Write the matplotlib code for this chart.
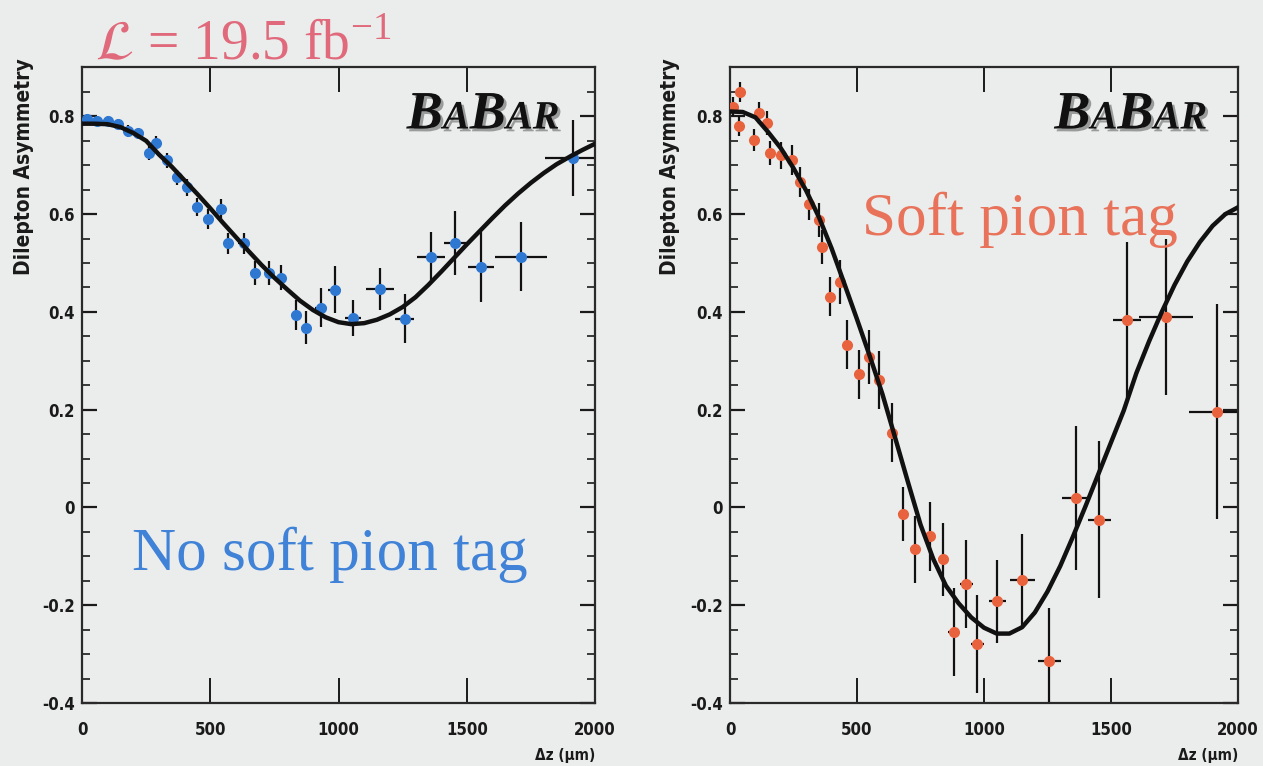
import matplotlib
matplotlib.use("Agg")
import matplotlib.pyplot as plt
import matplotlib.patheffects as pe
from matplotlib.ticker import MultipleLocator, FixedLocator, FixedFormatter
from matplotlib.offsetbox import TextArea, HPacker, AnchoredOffsetbox

plt.rcParams['mathtext.fontset'] = 'stix'

# ---------------- data: no soft pion tag ----------------
dz_nosoft = [20, 60, 100, 140, 180, 220, 260, 290, 330, 370, 410, 450, 490, 540,
             570, 630, 675, 730, 775, 834, 873, 932, 986, 1057, 1162, 1259, 1361,
             1454, 1556, 1711, 1914]
asym_nosoft = [0.795, 0.79, 0.79, 0.785, 0.77, 0.765, 0.725, 0.745, 0.71, 0.675,
               0.655, 0.615, 0.59, 0.61, 0.54, 0.54, 0.48, 0.48, 0.47, 0.394,
               0.368, 0.409, 0.445, 0.388, 0.447, 0.386, 0.513, 0.541, 0.492,
               0.513, 0.715]
dzerr_nosoft = [20, 20, 20, 20, 20, 20, 15, 15, 20, 20, 20, 20, 20, 15, 15, 20, 20,
                20, 20, 20, 20, 25, 25, 30, 55, 37, 55, 43, 50, 100, 110]
asymerr_nosoft = [0.01, 0.01, 0.01, 0.01, 0.012, 0.012, 0.014, 0.014, 0.015, 0.016,
                  0.017, 0.018, 0.02, 0.02, 0.022, 0.022, 0.024, 0.025, 0.026, 0.03,
                  0.034, 0.04, 0.048, 0.037, 0.043, 0.05, 0.05, 0.065, 0.072,
                  0.07, 0.077]

# fitted asymmetry curve, no soft pion tag
fit_dz = [0, 50, 100, 150, 200, 250, 300, 350, 400, 450, 500, 550, 600, 650, 700,
          750, 800, 850, 900, 950, 1000, 1050, 1100, 1150, 1200, 1250, 1300, 1350,
          1400, 1450, 1500, 1550, 1600, 1650, 1700, 1750, 1800, 1850, 1900, 1950, 2000]
fit_nosoft = [0.785, 0.785, 0.784, 0.778, 0.766, 0.75, 0.722, 0.697, 0.669, 0.641,
              0.612, 0.582, 0.553, 0.524, 0.496, 0.47, 0.446, 0.423, 0.404, 0.389,
              0.379, 0.375, 0.377, 0.384, 0.395, 0.41, 0.43, 0.455, 0.482, 0.51,
              0.538, 0.565, 0.592, 0.618, 0.642, 0.664, 0.684, 0.702, 0.717, 0.731,
              0.744]

# ---------------- data: soft pion tag ----------------
dz_soft = [10, 35, 40, 94, 114, 146, 157, 200, 244, 275, 310, 350, 363, 393, 432,
           460, 507, 546, 585, 637, 680, 727, 786, 837, 880, 931, 974, 1053, 1151,
           1257, 1363, 1454, 1564, 1717, 1917]
asym_soft = [0.82, 0.78, 0.85, 0.752, 0.807, 0.786, 0.725, 0.72, 0.711, 0.666, 0.62,
             0.588, 0.533, 0.431, 0.462, 0.333, 0.272, 0.308, 0.261, 0.153, -0.014,
             -0.086, -0.059, -0.106, -0.255, -0.157, -0.28, -0.192, -0.149, -0.315,
             0.02, -0.025, 0.384, 0.39, 0.196]
dzerr_soft = [10, 10, 10, 12, 12, 12, 12, 15, 15, 15, 15, 15, 15, 15, 15, 15, 15,
              15, 15, 15, 18, 18, 18, 20, 20, 25, 25, 35, 50, 45, 55, 45, 55, 105, 110]
asymerr_soft = [0.02, 0.02, 0.02, 0.022, 0.022, 0.025, 0.025, 0.028, 0.03, 0.03,
                0.032, 0.035, 0.035, 0.04, 0.045, 0.05, 0.05, 0.055, 0.06, 0.06,
                0.055, 0.068, 0.07, 0.075, 0.09, 0.09, 0.1, 0.085, 0.095, 0.11,
                0.147, 0.16, 0.16, 0.16, 0.22]

fit_soft = [0.81, 0.809, 0.798, 0.768, 0.735, 0.694, 0.648, 0.594, 0.53, 0.458,
            0.385, 0.31, 0.232, 0.143, 0.053, -0.035, -0.105, -0.16, -0.196, -0.225,
            -0.246, -0.258, -0.258, -0.245, -0.215, -0.172, -0.12, -0.06, 0.003,
            0.068, 0.133, 0.198, 0.275, 0.34, 0.4, 0.455, 0.503, 0.543, 0.576, 0.6,
            0.614]

ytick_vals = [-0.4, -0.2, 0.0, 0.2, 0.4, 0.6, 0.8]
ytick_text = ['-0.4', '-0.2', '0', '0.2', '0.4', '0.6', '0.8']
xtick_vals = [0, 500, 1000, 1500, 2000]
xtick_text = ['0', '500', '1000', '1500', '2000']

BG = '#ebedec'
BLUE = '#2f78d2'
ORANGE = '#e8623e'
SANS = 'DejaVu Sans'
SERIF = ['Liberation Serif', 'DejaVu Serif']
INK = '#1a1a1a'

fig = plt.figure(figsize=(12.63, 7.66), dpi=100, facecolor=BG)
W, H = 1263.0, 766.0
ax1 = fig.add_axes([82 / W, 1 - 703 / H, 513 / W, 636 / H])
ax2 = fig.add_axes([730 / W, 1 - 703 / H, 508 / W, 636 / H])


def style_axes(ax):
    ax.set_facecolor(BG)
    ax.set_xlim(0, 2000)
    ax.set_ylim(-0.4, 0.901)
    for s in ax.spines.values():
        s.set_linewidth(1.6)
        s.set_color('#2a2a2a')
    ax.xaxis.set_major_locator(FixedLocator(xtick_vals))
    ax.xaxis.set_major_formatter(FixedFormatter(xtick_text))
    ax.yaxis.set_major_locator(FixedLocator(ytick_vals))
    ax.yaxis.set_major_formatter(FixedFormatter(ytick_text))
    ax.yaxis.set_minor_locator(MultipleLocator(0.05))
    ax.tick_params(axis='x', which='major', direction='in', length=18, width=1.4,
                   top=True, bottom=True, pad=13, colors=INK)
    ax.tick_params(axis='y', which='major', direction='in', length=11, width=1.6,
                   left=True, right=True, pad=5, colors=INK)
    ax.tick_params(axis='y', which='minor', direction='in', length=6, width=1.2,
                   left=True, right=True, colors=INK)
    for lab in ax.get_xticklabels() + ax.get_yticklabels():
        lab.set_family(SANS)
        lab.set_fontstretch('condensed')
        lab.set_fontweight('bold')
        lab.set_fontsize(12)
    ax.text(1.0, -0.071, '\u0394z (\u03bcm)', transform=ax.transAxes, ha='right',
            va='top', fontsize=11, fontweight='bold', family=SANS,
            fontstretch='condensed', color=INK)


def draw_points(ax, x, y, xe, ye, color):
    ax.errorbar(x, y, xerr=xe, yerr=ye, fmt='none', ecolor='#111111',
                elinewidth=1.6, capsize=0, zorder=2)
    ax.plot(x, y, 'o', color=color, markersize=8, markeredgewidth=0, zorder=3)


def babar(ax, xfrac):
    big = dict(fontsize=39, fontweight='bold', fontstyle='italic', family=SERIF,
               color='#111111',
               path_effects=[pe.withSimplePatchShadow(offset=(2, -2), alpha=0.35)])
    small = dict(big, fontsize=29)
    parts = [TextArea('B', textprops=big), TextArea('A', textprops=small),
             TextArea('B', textprops=big), TextArea('AR', textprops=small)]
    pack = HPacker(children=parts, align='baseline', pad=0, sep=0)
    box = AnchoredOffsetbox(loc='upper center', child=pack, frameon=False, pad=0,
                            borderpad=0, bbox_to_anchor=(xfrac, 0.963),
                            bbox_transform=ax.transAxes)
    ax.add_artist(box)


for ax in (ax1, ax2):
    style_axes(ax)

draw_points(ax1, dz_nosoft, asym_nosoft, dzerr_nosoft, asymerr_nosoft, BLUE)
ax1.plot(fit_dz, fit_nosoft, color='#111111', lw=3.2, zorder=4)
draw_points(ax2, dz_soft, asym_soft, dzerr_soft, asymerr_soft, ORANGE)
ax2.plot(fit_dz, fit_soft, color='#111111', lw=3.2, zorder=4)

babar(ax1, 0.782)
babar(ax2, 0.789)

ax1.text(965, -0.096, 'No soft pion tag', ha='center', va='center', fontsize=44,
         family=SERIF, color='#3f82d8', zorder=5)
ax2.text(1140, 0.588, 'Soft pion tag', ha='center', va='center', fontsize=44,
         family=SERIF, color='#e8735a', zorder=5)

fig.text(95 / W, 1 - 60 / H, r'$\mathcal{L}$ = 19.5 fb$^{\mathregular{-1}}$',
         ha='left', va='baseline', fontsize=40, family=SERIF, color='#e06a7c')

for xpix in (24, 670):
    fig.text(xpix / W, 1 - 58 / H, 'Dilepton Asymmetry', rotation=90, ha='center',
             va='top', fontsize=15, fontweight='bold', family=SANS,
             fontstretch='condensed', color=INK)

fig.savefig('out.png', dpi=100, facecolor=BG)
